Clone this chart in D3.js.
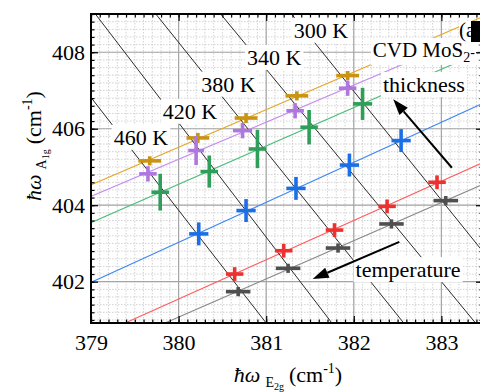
<!DOCTYPE html>
<html>
<head>
<meta charset="utf-8">
<script src="https://cdn.jsdelivr.net/npm/d3@7"></script>
<style>
  body { margin: 0; background: #fff; }
  svg text { font-family: "Liberation Serif", "Times New Roman", Tinos, "Nimbus Roman", "DejaVu Serif", serif; }
</style>
</head>
<body>
<div id="chart"></div>
<script>
// temperatures of the isotherms (one point per temperature in each series)
const temps = [460, 420, 380, 340, 300];

// series: E2g (x) and A1g (y) peak positions, cm^-1
const goldX = [379.67, 380.22, 380.77, 381.35, 381.93];
const goldY = [405.16, 405.76, 406.28, 406.86, 407.39];
const purpleX = [379.65, 380.20, 380.73, 381.33, 381.93];
const purpleY = [404.82, 405.43, 405.95, 406.47, 407.06];
const greenX = [379.79, 380.35, 380.90, 381.49, 382.10];
const greenY = [404.34, 404.88, 405.47, 406.04, 406.65];
const blueX = [380.23, 380.77, 381.34, 381.95, 382.54];
const blueY = [403.25, 403.86, 404.44, 405.05, 405.69];
const redX = [380.64, 381.20, 381.78, 382.38, 382.95];
const redY = [402.20, 402.81, 403.35, 403.97, 404.60];
const grayX = [380.68, 381.25, 381.82, 382.43, 383.05];
const grayY = [401.74, 402.35, 402.88, 403.51, 404.12];

// error bars (half widths)
const goldErrX = [0.13, 0.13, 0.13, 0.13, 0.13];
const goldErrY = [0.12, 0.13, 0.13, 0.12, 0.12];
const purpleErrX = [0.10, 0.09, 0.11, 0.10, 0.10];
const purpleErrY = [0.20, 0.38, 0.20, 0.20, 0.20];
const greenErrX = [0.10, 0.10, 0.10, 0.10, 0.11];
const greenErrY = [0.48, 0.42, 0.50, 0.45, 0.42];
const blueErrX = [0.11, 0.11, 0.11, 0.11, 0.11];
const blueErrY = [0.30, 0.30, 0.30, 0.30, 0.30];
const redErrX = [0.10, 0.10, 0.10, 0.10, 0.10];
const redErrY = [0.18, 0.18, 0.18, 0.18, 0.18];
const grayErrX = [0.14, 0.14, 0.14, 0.14, 0.14];
const grayErrY = [0.12, 0.12, 0.12, 0.12, 0.12];

// isotherms: x where each crosses the top (409) and bottom (400.92) of the frame
const isoTopX = [378.26, 379.05, 379.74, 380.48, 381.29];
const isoBotX = [381.00, 381.75, 382.57, 383.39, 384.13];

const xTicks = [379, 380, 381, 382, 383];
const yTicks = [402, 404, 406, 408];

const series = [
  { xs: goldX, ys: goldY, ex: goldErrX, ey: goldErrY, mark: "#c99413", line: "#e3a92c" },
  { xs: purpleX, ys: purpleY, ex: purpleErrX, ey: purpleErrY, mark: "#b076e0", line: "#c58cf0" },
  { xs: greenX, ys: greenY, ex: greenErrX, ey: greenErrY, mark: "#2f9e5a", line: "#4dbd7c" },
  { xs: blueX, ys: blueY, ex: blueErrX, ey: blueErrY, mark: "#1a6fe6", line: "#3f88f2" },
  { xs: redX, ys: redY, ex: redErrX, ey: redErrY, mark: "#ee3030", line: "#ff5c5c" },
  { xs: grayX, ys: grayY, ex: grayErrX, ey: grayErrY, mark: "#4f4f4f", line: "#8a8a8a" }
];

const SERIF = '"Liberation Serif", "Times New Roman", Tinos, "Nimbus Roman", "DejaVu Serif", serif';

const width = 480, height = 392;
const svg = d3.select("#chart").append("svg")
  .attr("width", width)
  .attr("height", height);

const x = d3.scaleLinear().domain([379, 383.475]).range([91, 483]);
const y = d3.scaleLinear().domain([400.92, 409.0]).range([323, 14]);
const [x0, x1] = x.range();
const [y0, y1] = y.range();

svg.append("defs").append("clipPath").attr("id", "plot-clip")
  .append("rect").attr("x", x0).attr("y", y1).attr("width", x1 - x0).attr("height", y0 - y1);

const plot = svg.append("g").attr("clip-path", "url(#plot-clip)");

// minor grid
const xMinor = d3.ticks(379, 383.475, 45);
const yMinor = d3.ticks(400.92, 409, 40);
plot.append("g").selectAll("line").data(xMinor).join("line")
  .attr("x1", d => x(d)).attr("x2", d => x(d)).attr("y1", y1).attr("y2", y0)
  .attr("stroke", "#c8c8c8").attr("stroke-width", 0.8).attr("stroke-dasharray", "1.5,1.5");
plot.append("g").selectAll("line").data(yMinor).join("line")
  .attr("y1", d => y(d)).attr("y2", d => y(d)).attr("x1", x0).attr("x2", x1)
  .attr("stroke", "#c8c8c8").attr("stroke-width", 0.8).attr("stroke-dasharray", "1.5,1.5");

// major grid
plot.append("g").selectAll("line").data(xTicks).join("line")
  .attr("x1", d => x(d)).attr("x2", d => x(d)).attr("y1", y1).attr("y2", y0)
  .attr("stroke", "#a6a6a6").attr("stroke-width", 1.2);
plot.append("g").selectAll("line").data(yTicks).join("line")
  .attr("y1", d => y(d)).attr("y2", d => y(d)).attr("x1", x0).attr("x2", x1)
  .attr("stroke", "#a6a6a6").attr("stroke-width", 1.2);

// linear fits through each series
series.forEach(s => {
  const mx = d3.mean(s.xs), my = d3.mean(s.ys);
  const sxy = d3.sum(s.xs, (v, i) => (v - mx) * (s.ys[i] - my));
  const sxx = d3.sum(s.xs, v => (v - mx) * (v - mx));
  const k = sxy / sxx;
  const f = v => my + k * (v - mx);
  plot.append("line")
    .attr("x1", x(378)).attr("y1", y(f(378)))
    .attr("x2", x(385)).attr("y2", y(f(385)))
    .attr("stroke", s.line).attr("stroke-width", 1.1);
});

// isotherms
plot.append("g").selectAll("line").data(temps).join("line")
  .attr("x1", (d, i) => x(isoTopX[i])).attr("y1", y(409))
  .attr("x2", (d, i) => x(isoBotX[i])).attr("y2", y(400.92))
  .attr("stroke", "#2b2b2b").attr("stroke-width", 1);

// crosses
series.forEach(s => {
  const g = plot.append("g").attr("stroke", s.mark).attr("stroke-width", 3.6);
  s.xs.forEach((vx, i) => {
    const vy = s.ys[i];
    g.append("line")
      .attr("x1", x(vx - s.ex[i])).attr("x2", x(vx + s.ex[i]))
      .attr("y1", y(vy)).attr("y2", y(vy));
    g.append("line")
      .attr("x1", x(vx)).attr("x2", x(vx))
      .attr("y1", y(vy - s.ey[i])).attr("y2", y(vy + s.ey[i]));
  });
});

// text boxed on white
const notes = svg.append("g").attr("clip-path", "url(#plot-clip)");
function boxed(cx, cy, size, build, anchor) {
  const g = notes.append("g");
  const rect = g.append("rect").attr("fill", "#fff");
  const t = g.append("text")
    .attr("x", x(cx)).attr("y", y(cy))
    .attr("font-family", SERIF)
    .attr("font-size", size)
    .attr("text-anchor", anchor || "middle")
    .attr("dy", "0.35em");
  build(t);
  const b = t.node().getBBox();
  rect.attr("x", b.x - 2).attr("y", b.y).attr("width", b.width + 4).attr("height", b.height);
  return g;
}

const isoLabelAt = [[379.57, 405.78], [380.13, 406.46], [380.57, 407.17], [381.09, 407.87], [381.625, 408.58]];
temps.forEach((t, i) => {
  boxed(isoLabelAt[i][0], isoLabelAt[i][1], 22, s => s.text(t + " K"));
});

boxed(382.216, 408.07, 21, s => {
  s.append("tspan").text("CVD MoS");
  s.append("tspan").attr("font-size", 14).attr("dy", 5).text("2");
  s.append("tspan").attr("font-size", 14).attr("dy", -5).text("-");
}, "start");
boxed(382.80, 407.16, 22, s => s.text("thickness"));
boxed(382.62, 402.32, 22, s => s.text("temperature"));

// arrows
function arrow(xa, ya, xb, yb) {
  const ax = x(xa), ay = y(ya), bx = x(xb), by = y(yb);
  const ang = Math.atan2(by - ay, bx - ax);
  const L = 16, Wd = 5.5;
  const baseX = bx - L * Math.cos(ang), baseY = by - L * Math.sin(ang);
  notes.append("line")
    .attr("x1", ax).attr("y1", ay).attr("x2", baseX).attr("y2", baseY)
    .attr("stroke", "#000").attr("stroke-width", 2);
  notes.append("path")
    .attr("d", `M${bx},${by}L${baseX + Wd * Math.sin(ang)},${baseY - Wd * Math.cos(ang)}L${baseX - Wd * Math.sin(ang)},${baseY + Wd * Math.cos(ang)}Z`)
    .attr("fill", "#000");
}
arrow(383.12, 404.98, 382.45, 406.77);
arrow(382.52, 403.04, 381.53, 402.07);

// panel tag
svg.append("rect").attr("x", 459).attr("y", 21).attr("width", 12).attr("height", 21).attr("fill", "#fff");
svg.append("rect").attr("x", 471).attr("y", 21).attr("width", 12).attr("height", 21).attr("fill", "#000");
svg.append("text").attr("x", 459).attr("y", 37).attr("font-family", SERIF).attr("font-size", 21).text("(a");

// axes with inward ticks
function styleAxis(g) {
  g.attr("font-family", SERIF);
  g.select(".domain").remove();
  g.selectAll("line").attr("stroke", "#000").attr("stroke-width", 1.2);
  g.selectAll("text").attr("font-size", 22).attr("fill", "#000").attr("font-family", SERIF);
}
svg.append("g").attr("transform", `translate(0,${y0})`)
  .call(d3.axisBottom(x).tickValues(xMinor).tickSize(-3.5).tickFormat("")).call(styleAxis);
svg.append("g").attr("transform", `translate(0,${y0})`)
  .call(d3.axisBottom(x).tickValues(xTicks).tickSize(-7).tickPadding(11).tickFormat(d3.format("d"))).call(styleAxis);
svg.append("g").attr("transform", `translate(0,${y1})`)
  .call(d3.axisTop(x).tickValues(xMinor).tickSize(-3.5).tickFormat("")).call(styleAxis);
svg.append("g").attr("transform", `translate(0,${y1})`)
  .call(d3.axisTop(x).tickValues(xTicks).tickSize(-7).tickFormat("")).call(styleAxis);
svg.append("g").attr("transform", `translate(${x0},0)`)
  .call(d3.axisLeft(y).tickValues(yMinor).tickSize(-3.5).tickFormat("")).call(styleAxis);
svg.append("g").attr("transform", `translate(${x0},0)`)
  .call(d3.axisLeft(y).tickValues(yTicks).tickSize(-7).tickPadding(6).tickFormat(d3.format("d"))).call(styleAxis);
svg.append("g").attr("transform", `translate(${x1},0)`)
  .call(d3.axisRight(y).tickValues(yMinor).tickSize(-3.5).tickFormat("")).call(styleAxis);
svg.append("g").attr("transform", `translate(${x1},0)`)
  .call(d3.axisRight(y).tickValues(yTicks).tickSize(-7).tickFormat("")).call(styleAxis);

// frame
svg.append("rect")
  .attr("x", x0).attr("y", y1).attr("width", x1 - x0).attr("height", y0 - y1)
  .attr("fill", "none").attr("stroke", "#000").attr("stroke-width", 2);

// axis titles
function title(t, sub, subsub) {
  t.append("tspan").attr("font-style", "italic").text("ħω");
  t.append("tspan").attr("font-size", 14).attr("dx", 5).attr("dy", 5).text(sub);
  t.append("tspan").attr("font-size", 10).attr("dy", 3).text(subsub);
  t.append("tspan").attr("dx", 5).attr("dy", -8).text("(cm");
  t.append("tspan").attr("font-size", 14).attr("dy", -9).text("-1");
  t.append("tspan").attr("dy", 9).text(")");
}
const xt = svg.append("text").attr("x", 288).attr("y", 382)
  .attr("font-family", SERIF).attr("font-size", 22).attr("text-anchor", "middle");
title(xt, "E", "2g");
const yt = svg.append("text").attr("transform", "translate(41,146) rotate(-90)")
  .attr("font-family", SERIF).attr("font-size", 22).attr("text-anchor", "middle");
title(yt, "A", "1g");
</script>
</body>
</html>
